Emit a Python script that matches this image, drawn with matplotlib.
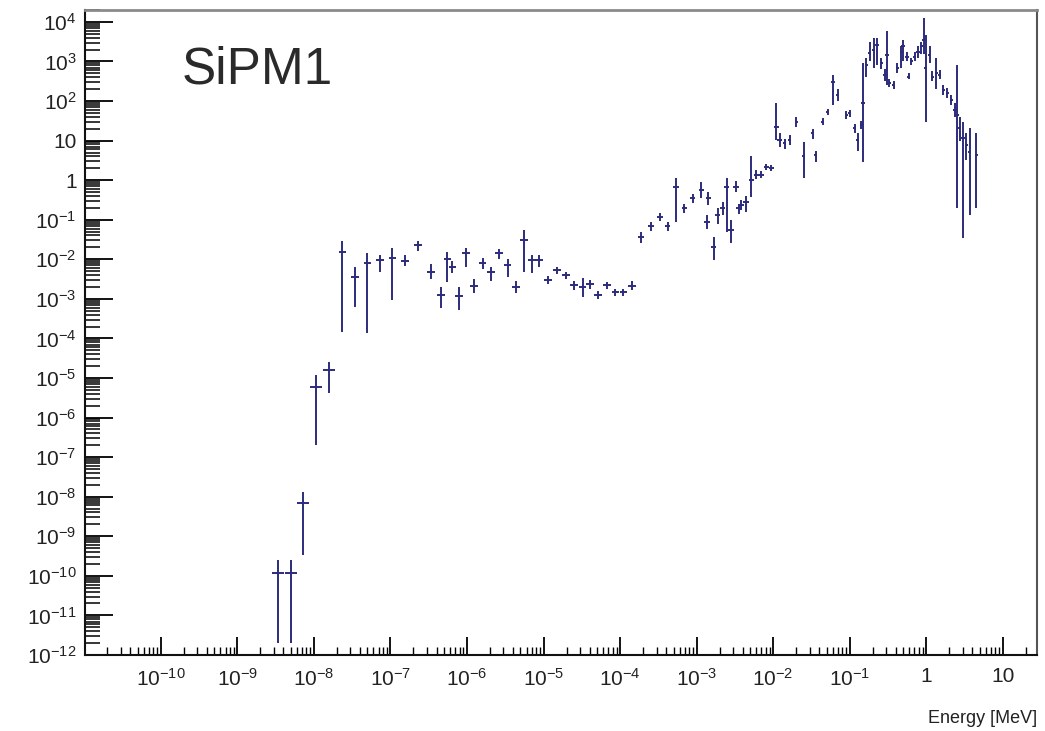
import numpy as np
import matplotlib
matplotlib.use("Agg")
import matplotlib.pyplot as plt
from matplotlib.ticker import LogLocator, FuncFormatter, NullFormatter

plt.rcParams['font.family'] = ['Liberation Sans', 'DejaVu Sans']
plt.rcParams['mathtext.fontset'] = 'custom'
plt.rcParams['mathtext.rm'] = 'Liberation Sans'
plt.rcParams['mathtext.it'] = 'Liberation Sans'
plt.rcParams['mathtext.bf'] = 'Liberation Sans'

# neutron energy spectrum at SiPM1, log10 of bin centre [MeV]
log_energy = [
    -8.469, -8.300, -8.142, -7.968, -7.800,
    -7.628, -7.462, -7.300, -7.139, -6.974, -6.812, -6.638, -6.472, -6.341,
    -6.255, -6.190, -6.102, -6.014, -5.906, -5.797, -5.687, -5.579, -5.470,
    -5.360, -5.252, -5.151, -5.055, -4.938, -4.824, -4.706, -4.598, -4.489,
    -4.392, -4.284, -4.170, -4.061, -3.956, -3.843,
    -3.725, -3.594, -3.477, -3.377, -3.267, -3.159, -3.050, -2.940, -2.866,
    -2.845, -2.779, -2.724, -2.658, -2.606, -2.550, -2.484, -2.450, -2.418,
    -2.353, -2.286, -2.221, -2.155, -2.090, -2.024,
    -1.959, -1.916, -1.850, -1.785, -1.698, -1.600, -1.480, -1.445, -1.350,
    -1.284, -1.218, -1.153, -1.044, -1.000, -0.935, -0.892, -0.847, -0.826,
    -0.782, -0.739, -0.687, -0.643, -0.586, -0.543, -0.512, -0.486, -0.425,
    -0.377, -0.325, -0.303, -0.251, -0.230, -0.193, -0.150, -0.107, -0.063,
    -0.033, -0.007, 0.046, 0.081, 0.133, 0.177, 0.221, 0.273, 0.330,
    0.374, 0.404, 0.438, 0.481, 0.525, 0.569, 0.656,
]
# log10 of bin content
log_counts = [
    -9.92, -9.92, -8.15, -5.22, -4.80,
    -1.81, -2.44, -2.10, -2.02, -1.97, -2.04, -1.65, -2.31, -2.90,
    -2.00, -2.19, -2.93, -1.85, -2.67, -2.10, -2.31, -1.85, -2.14,
    -2.69, -1.51, -2.02, -2.02, -2.52, -2.27, -2.40, -2.65, -2.69,
    -2.63, -2.90, -2.65, -2.82, -2.82, -2.67,
    -1.43, -1.17, -0.92, -1.17, -0.16, -0.71, -0.46, -0.25, -1.05,
    -0.46, -1.68, -0.88, -0.71, -0.16, -1.26, -0.16, -0.71, -0.63,
    -0.54, 0.00, 0.13, 0.13, 0.34, 0.30,
    1.35, 1.02, 0.93, 1.02, 1.48, 0.60, 1.19, 0.64, 1.48,
    1.73, 2.49, 2.15, 1.65, 1.69, 1.31, 1.02, 1.40, 1.94,
    2.91, 3.21, 3.29, 3.42, 2.96, 2.66, 3.17, 2.45, 2.41,
    2.83, 3.25, 3.38, 3.12, 2.62, 3.00, 3.12, 3.25, 3.38,
    3.55, 2.83, 3.17, 2.62, 2.70, 2.66, 2.28, 2.20, 2.03,
    1.78, 1.65, 1.31, 1.06, 0.89, 0.72, 0.64,
]
# log10 of lower / upper end of the error bar
log_err_lo = [
    -11.70, -11.70, -9.47, -6.69, -5.38,
    -3.83, -3.20, -3.87, -2.31, -3.03, -2.17, -1.79, -2.51, -3.24,
    -2.57, -2.35, -3.28, -2.19, -2.85, -2.25, -2.55, -1.98, -2.45,
    -2.85, -2.31, -2.35, -2.20, -2.62, -2.36, -2.50, -2.78, -2.95,
    -2.75, -3.00, -2.75, -2.92, -2.92, -2.78,
    -1.60, -1.28, -1.03, -1.28, -1.05, -0.82, -0.58, -0.46, -1.23,
    -0.63, -2.02, -1.10, -0.88, -1.30, -1.60, -0.30, -0.85, -0.75,
    -0.80, -0.42, 0.02, 0.05, 0.25, 0.22,
    1.02, 0.85, 0.80, 0.90, 1.35, 0.05, 1.05, 0.45, 1.40,
    1.65, 1.90, 2.00, 1.55, 1.60, 1.20, 0.75, 1.30, 0.47,
    2.60, 3.00, 2.83, 2.90, 2.80, 2.50, 2.41, 2.35, 2.30,
    2.70, 2.83, 3.00, 3.00, 2.55, 2.90, 3.00, 3.10, 3.20,
    3.20, 1.48, 2.95, 2.50, 2.30, 2.55, 2.15, 2.08, 1.90,
    1.60, -0.71, 1.00, -1.47, 0.50, -0.88, -0.71,
]
log_err_hi = [
    -9.60, -9.60, -7.87, -4.92, -4.59,
    -1.54, -2.19, -1.85, -1.89, -1.72, -1.89, -1.53, -2.13, -2.69,
    -1.81, -2.05, -2.69, -1.71, -2.50, -1.97, -2.20, -1.73, -1.98,
    -2.56, -1.26, -1.88, -1.88, -2.42, -2.20, -2.32, -2.55, -2.48,
    -2.53, -2.80, -2.57, -2.74, -2.74, -2.55,
    -1.30, -1.06, -0.82, -1.06, 0.05, -0.60, -0.35, -0.05, -0.88,
    -0.29, -1.43, -0.70, -0.55, 0.05, -1.00, -0.02, -0.60, -0.50,
    -0.40, 0.60, 0.25, 0.22, 0.42, 0.38,
    1.94, 1.20, 1.05, 1.15, 1.60, 0.97, 1.30, 0.75, 1.56,
    1.80, 2.66, 2.30, 1.75, 1.78, 1.42, 1.20, 1.50, 2.96,
    3.10, 3.50, 3.59, 3.60, 3.10, 2.80, 3.76, 2.55, 2.50,
    2.95, 3.40, 3.55, 3.25, 2.70, 3.10, 3.25, 3.38, 3.50,
    4.09, 3.67, 3.40, 2.75, 3.10, 2.78, 2.40, 2.32, 2.15,
    1.95, 2.91, 1.60, 1.48, 1.20, 1.31, 1.19,
]

log_e = np.array(log_energy)
# variable binning: coarse at thermal energies, finer towards fast neutrons
half_w = np.where(log_e < -7.7, 0.08,
         np.where(log_e < -3.78, 0.05,
         np.where(log_e < -1.9, 0.035, 0.02)))

energy = 10 ** log_e
counts = 10 ** np.array(log_counts)
y_lo = 10 ** np.array(log_err_lo)
y_hi = 10 ** np.array(log_err_hi)
x_lo = 10 ** (log_e - half_w)
x_hi = 10 ** (log_e + half_w)

fig = plt.figure(figsize=(10.45, 7.31), dpi=100)
ax = fig.add_axes([0.0813, 0.104, 0.9110, 0.8823])

ax.errorbar(energy, counts,
            xerr=[energy - x_lo, x_hi - energy],
            yerr=[counts - y_lo, y_hi - counts],
            fmt='none', ecolor='#2c2c7c', elinewidth=1.4, capsize=0)

ax.set_xscale('log')
ax.set_yscale('log')
ax.set_xlim(1.02e-11, 28)
ax.set_ylim(1e-12, 2e4)


def root_label(v, pos):
    e = int(round(np.log10(v)))
    if e == 0:
        return '1'
    if e == 1:
        return '10'
    return r'$10^{%d}$' % e


def x_label(v, pos):
    # nothing at the left edge of the energy axis
    if v < 5e-11:
        return ''
    return root_label(v, pos)


ax.xaxis.set_major_locator(LogLocator(base=10, numticks=30))
ax.xaxis.set_minor_locator(LogLocator(base=10, subs=np.arange(2, 10), numticks=30))
ax.yaxis.set_major_locator(LogLocator(base=10, numticks=30))
ax.yaxis.set_minor_locator(LogLocator(base=10, subs=np.arange(2, 10), numticks=30))
ax.xaxis.set_major_formatter(FuncFormatter(x_label))
ax.yaxis.set_major_formatter(FuncFormatter(root_label))
ax.xaxis.set_minor_formatter(NullFormatter())
ax.yaxis.set_minor_formatter(NullFormatter())

ax.tick_params(axis='y', which='major', direction='in', length=20, width=1.3,
               labelsize=15, pad=6, right=False, labelcolor='#222222')
ax.tick_params(axis='y', which='minor', direction='in', length=11, width=1.1,
               right=False)
ax.tick_params(axis='x', which='major', direction='in', length=13, width=1.3,
               labelsize=15, pad=9, top=False, labelcolor='#222222')
ax.tick_params(axis='x', which='minor', direction='in', length=6, width=1.0,
               top=False)

for side in ('left', 'bottom'):
    ax.spines[side].set_linewidth(1.5)
    ax.spines[side].set_color('#111111')
ax.spines['top'].set_color('#8a8a8a')
ax.spines['top'].set_linewidth(2.0)
ax.spines['right'].set_color('#555555')
ax.spines['right'].set_linewidth(1.5)

# label of the detector in the upper left
fig.text(182 / 1045, 1 - 83 / 731, 'SiPM1', fontsize=37, color='#2a2a2a',
         ha='left', va='baseline')

ax.set_xlabel('Energy [MeV]', fontsize=13, color='#222222')
ax.xaxis.set_label_coords(1.0, -0.085)
ax.xaxis.label.set_horizontalalignment('right')

fig.savefig('out.png', dpi=100)
